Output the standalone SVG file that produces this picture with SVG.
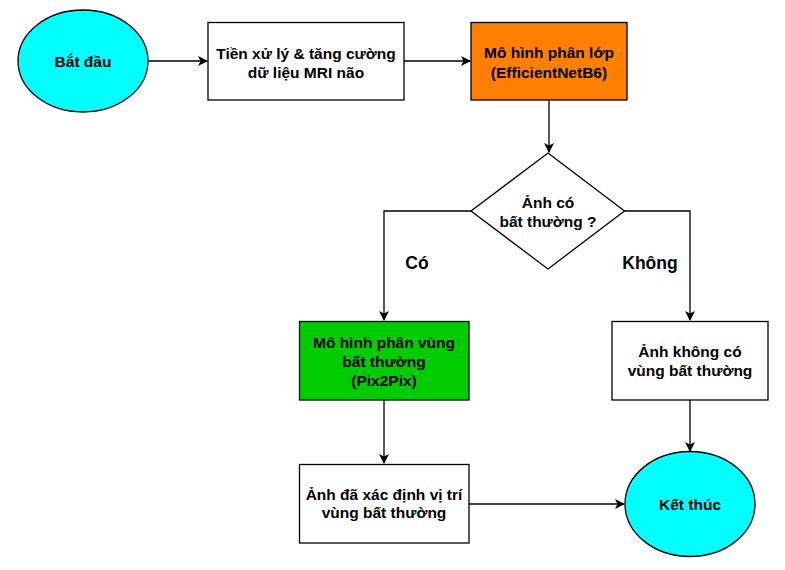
<svg xmlns="http://www.w3.org/2000/svg" width="785" height="570" viewBox="0 0 785 570">
<defs>
<marker id="arr" viewBox="0 0 10 10" refX="9" refY="5" markerWidth="10" markerHeight="10" markerUnits="userSpaceOnUse" orient="auto">
<path d="M0,0 L10,5 L0,10 L2.5,5 Z" fill="#000"/>
</marker>
<style>
.n{stroke:#000;stroke-width:1.3}
.t{font-family:"Liberation Sans",Arial,sans-serif;font-weight:bold;font-size:15.5px;text-anchor:middle;fill:#000}
.lbl{font-size:17.5px}
.c{fill:none;stroke:#000;stroke-width:1.3;marker-end:url(#arr)}
</style>
</defs>
<rect width="785" height="570" fill="#fff"/>
<g id="connectors">
<path class="c" d="M148,61 L207,61"/>
<path class="c" d="M404,61 L470,61"/>
<path class="c" d="M549,100 L549,152"/>
<path class="c" d="M471,211 L384,211 L384,320"/>
<path class="c" d="M624,211 L690,211 L690,320"/>
<path class="c" d="M384,400 L384,463"/>
<path class="c" d="M690,400 L690,451"/>
<path class="c" d="M469,504 L624,504"/>
</g>
<g id="start">
<ellipse class="n" cx="83" cy="61" rx="65" ry="51" fill="#00FFFF"/>
<text class="t" x="83" y="67">Bắt đầu</text>
</g>
<g id="preprocess">
<rect class="n" x="208" y="22.5" width="196" height="77.5" fill="#fff"/>
<text class="t" x="306" y="58.5">Tiền xử lý &amp; tăng cường</text>
<text class="t" x="306" y="77.5">dữ liệu MRI não</text>
</g>
<g id="classifier">
<rect class="n" x="471" y="22.5" width="156" height="77.5" fill="#FF8000"/>
<text class="t" x="549" y="57.5">Mô hình phân lớp</text>
<text class="t" x="549" y="77.5">(EfficientNetB6)</text>
</g>
<g id="decision">
<polygon class="n" points="548,153 624.5,211 548,269 471,211" fill="#fff"/>
<text class="t" x="548" y="207.5">Ảnh có</text>
<text class="t" x="548" y="226.5">bất thường ?</text>
</g>
<g id="labels">
<text class="t lbl" x="417" y="269">Có</text>
<text class="t lbl" x="650" y="269">Không</text>
</g>
<g id="segment">
<rect class="n" x="299.5" y="321.5" width="169.5" height="78.5" fill="#00CC00"/>
<text class="t" x="384" y="348">Mô hình phân vùng</text>
<text class="t" x="384" y="366.5">bất thường</text>
<text class="t" x="384" y="385.5">(Pix2Pix)</text>
</g>
<g id="normal">
<rect class="n" x="612" y="321.5" width="156" height="78.5" fill="#fff"/>
<text class="t" x="690" y="357">Ảnh không có</text>
<text class="t" x="690" y="376">vùng bất thường</text>
</g>
<g id="located">
<rect class="n" x="299.5" y="464.5" width="169.5" height="78.5" fill="#fff"/>
<text class="t" x="384" y="499.5">Ảnh đã xác định vị trí</text>
<text class="t" x="384" y="518">vùng bất thường</text>
</g>
<g id="end">
<ellipse class="n" cx="690" cy="504" rx="65" ry="52.5" fill="#00FFFF"/>
<text class="t" x="690" y="509.5">Kết thúc</text>
</g>
</svg>
